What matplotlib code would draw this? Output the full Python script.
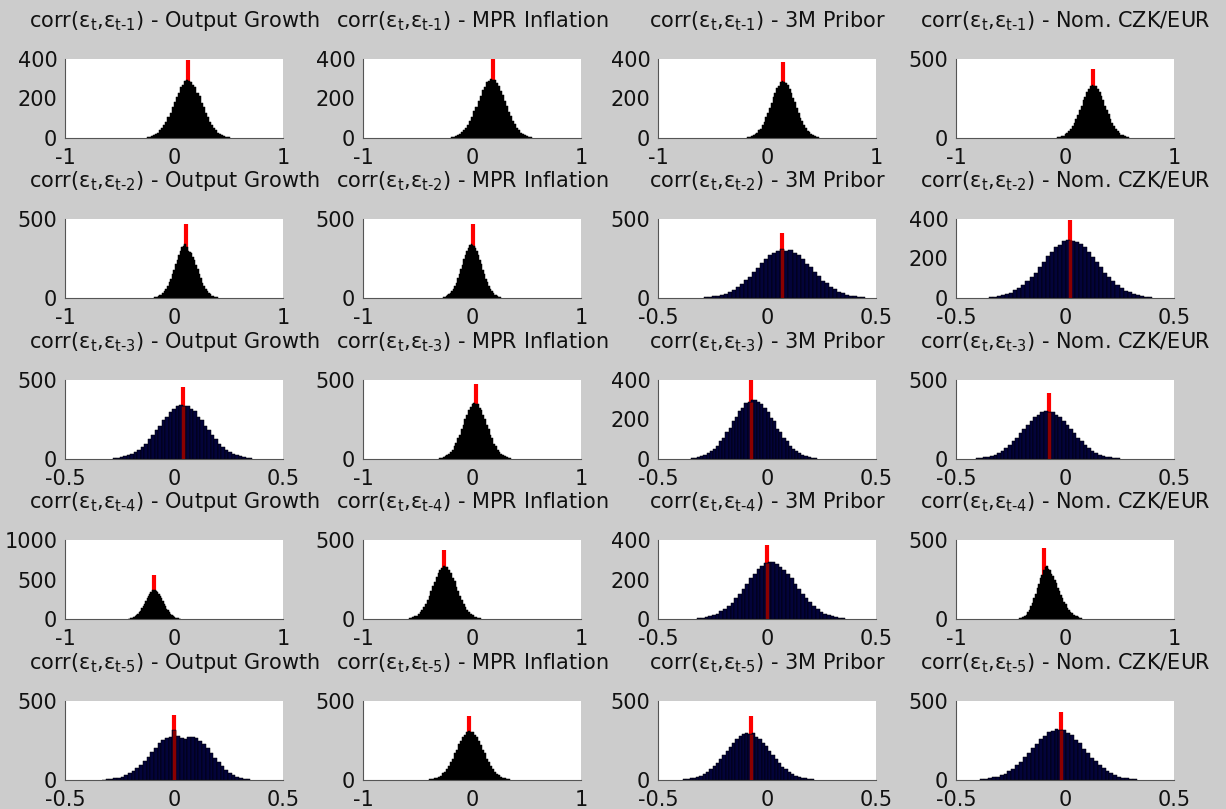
import numpy as np
import matplotlib
matplotlib.use("Agg")
import matplotlib.pyplot as plt
from matplotlib.ticker import FormatStrFormatter

plt.rcParams['font.family'] = ['DejaVu Sans']
plt.rcParams['mathtext.fontset'] = 'dejavusans'
plt.rcParams['axes.unicode_minus'] = False

variables = ['Output Growth', 'MPR Inflation', '3M Pribor', 'Nom. CZK/EUR']
lags = [1, 2, 3, 4, 5]

# x-axis half width per panel (row = lag, column = variable)
x_half = [[1, 1, 1, 1],
          [1, 1, 0.5, 0.5],
          [0.5, 1, 0.5, 0.5],
          [1, 1, 0.5, 1],
          [0.5, 1, 0.5, 0.5]]

# y-axis upper limit and tick step per panel
y_top = [[400, 400, 400, 500],
         [500, 500, 500, 400],
         [500, 500, 400, 500],
         [1000, 500, 400, 500],
         [500, 500, 500, 500]]
y_step = [[200, 200, 200, 500],
          [500, 500, 500, 200],
          [500, 500, 200, 500],
          [500, 500, 200, 500],
          [500, 500, 500, 500]]

# histogram support (lower, upper edge) per panel
hist_range = [[(-0.25, 0.51), (-0.19, 0.55), (-0.18, 0.48), (-0.07, 0.59)],
              [(-0.18, 0.40), (-0.27, 0.27), (-0.29, 0.45), (-0.35, 0.40)],
              [(-0.28, 0.36), (-0.30, 0.36), (-0.35, 0.23), (-0.41, 0.25)],
              [(-0.42, 0.06), (-0.58, 0.08), (-0.32, 0.36), (-0.42, 0.16)],
              [(-0.33, 0.35), (-0.39, 0.35), (-0.385, 0.215), (-0.39, 0.33)]]

# sample autocorrelation of the data (red marker) and marker height
data_corr = [[0.13, 0.19, 0.15, 0.26],
             [0.11, 0.01, 0.07, 0.025],
             [0.04, 0.04, -0.075, -0.075],
             [-0.18, -0.26, 0.0, -0.19],
             [0.0, -0.03, -0.075, -0.02]]
marker_top = [[395, 398, 385, 436],
              [468, 468, 411, 395],
              [456, 475, 400, 418],
              [557, 437, 375, 449],
              [411, 405, 405, 430]]

# bin counts of the simulated autocorrelations
counts_lag1 = [
    [4, 6, 10, 13, 21, 26, 39, 49, 68, 83, 108, 127, 157, 180, 210, 230, 257, 270, 288, 292,
     289, 283, 268, 256, 228, 211, 178, 158, 126, 108, 82, 67, 49, 39, 26, 20, 13, 10, 6, 4],
    [4, 7, 9, 15, 19, 29, 38, 53, 67, 88, 108, 135, 157, 189, 212, 241, 259, 282, 291, 300,
     296, 294, 277, 263, 236, 216, 185, 160, 131, 111, 85, 69, 51, 40, 27, 21, 13, 10, 6, 4],
    [4, 6, 10, 13, 20, 26, 38, 48, 66, 82, 105, 126, 153, 177, 206, 226, 252, 265, 282, 287,
     284, 278, 268, 247, 230, 202, 181, 150, 128, 103, 84, 64, 50, 36, 28, 18, 14, 9, 6, 4],
    [5, 7, 11, 15, 23, 30, 44, 56, 76, 95, 122, 146, 179, 205, 239, 262, 292, 308, 327, 333,
     329, 326, 309, 292, 263, 239, 205, 178, 149, 119, 97, 74, 58, 42, 32, 21, 16, 10, 7, 5],
]
counts_lag2 = [
    [5, 7, 11, 16, 22, 33, 43, 60, 76, 100, 123, 153, 180, 215, 242, 275, 296, 321, 331, 342,
     322, 300, 290, 282, 262, 240, 208, 186, 150, 126, 98, 78, 58, 44, 31, 23, 15, 11, 7, 5],
    [5, 7, 11, 16, 24, 31, 45, 58, 78, 98, 125, 151, 183, 212, 246, 270, 299, 317, 335, 342,
     338, 332, 318, 296, 273, 241, 215, 180, 153, 122, 100, 76, 60, 43, 33, 22, 16, 10, 7, 5],
    [4, 7, 10, 15, 22, 28, 41, 52, 71, 88, 114, 135, 167, 190, 224, 244, 272, 285, 298, 310,
     295, 306, 285, 272, 250, 218, 196, 162, 140, 110, 92, 69, 54, 39, 30, 20, 15, 10, 7, 4],
    [4, 6, 9, 14, 21, 27, 39, 50, 67, 84, 108, 128, 158, 180, 211, 231, 258, 270, 289, 294,
     290, 286, 272, 257, 232, 210, 181, 157, 129, 107, 86, 65, 51, 37, 28, 20, 13, 9, 6, 4],
]
counts_lag3 = [
    [5, 7, 11, 16, 23, 32, 45, 58, 78, 97, 126, 150, 184, 210, 246, 268, 300, 314, 336, 342,
     333, 338, 316, 301, 268, 247, 210, 185, 150, 126, 97, 79, 58, 45, 31, 23, 16, 11, 7, 5],
    [5, 7, 12, 16, 25, 32, 47, 60, 81, 100, 130, 155, 190, 218, 255, 279, 311, 327, 347, 354,
     346, 345, 325, 312, 277, 256, 214, 192, 152, 131, 98, 82, 59, 47, 31, 24, 16, 11, 7, 5],
    [4, 6, 10, 15, 19, 29, 38, 53, 67, 89, 107, 135, 157, 190, 211, 242, 258, 283, 290, 299,
     297, 288, 281, 259, 240, 209, 190, 154, 136, 105, 89, 66, 52, 39, 28, 19, 14, 9, 6, 4],
    [4, 6, 10, 14, 21, 28, 40, 51, 70, 87, 111, 133, 163, 187, 218, 240, 267, 280, 298, 304,
     300, 295, 280, 266, 241, 215, 188, 162, 133, 112, 87, 70, 51, 40, 28, 21, 14, 10, 6, 4],
]
counts_lag4 = [
    [5, 8, 12, 17, 25, 35, 48, 64, 84, 107, 134, 164, 196, 230, 263, 295, 322, 345, 361, 370,
     366, 360, 343, 320, 296, 261, 231, 194, 166, 132, 108, 83, 65, 47, 36, 24, 18, 12, 8, 5],
    [5, 7, 11, 16, 22, 31, 43, 57, 75, 96, 121, 148, 177, 207, 237, 265, 290, 310, 325, 335,
     331, 328, 307, 292, 262, 240, 204, 179, 146, 122, 95, 76, 56, 43, 30, 23, 15, 11, 7, 5],
    [4, 6, 9, 13, 20, 26, 38, 49, 66, 82, 105, 127, 153, 178, 206, 226, 252, 270, 282, 289,
     287, 280, 264, 250, 226, 206, 178, 153, 128, 104, 84, 65, 50, 37, 27, 19, 13, 9, 6, 4],
    [5, 8, 12, 20, 28, 43, 57, 80, 102, 133, 159, 195, 222, 258, 280, 308, 331, 335, 318, 310,
     286, 271, 244, 226, 196, 177, 149, 131, 107, 92, 72, 60, 46, 38, 27, 22, 16, 12, 8, 6],
]
counts_lag5 = [
    [3, 5, 7, 10, 15, 22, 30, 42, 56, 74, 95, 119, 145, 176, 205, 232, 255, 268, 272, 316,
     276, 268, 262, 270, 272, 266, 248, 228, 200, 170, 140, 112, 86, 64, 46, 31, 21, 13, 8, 5],
    [4, 7, 10, 15, 22, 28, 42, 52, 71, 89, 115, 135, 168, 191, 225, 245, 273, 287, 304, 310,
     303, 301, 285, 273, 244, 224, 190, 168, 134, 114, 88, 72, 51, 41, 29, 21, 15, 10, 7, 4],
    [4, 6, 10, 14, 20, 28, 38, 51, 67, 86, 108, 132, 158, 185, 211, 236, 259, 277, 290, 297,
     294, 296, 275, 262, 233, 213, 183, 159, 130, 109, 84, 68, 50, 39, 27, 20, 14, 10, 6, 4],
    [5, 7, 10, 16, 21, 31, 41, 57, 72, 94, 116, 145, 170, 203, 228, 259, 279, 303, 313, 323,
     318, 316, 299, 283, 255, 232, 199, 174, 141, 118, 92, 74, 55, 43, 29, 22, 15, 10, 7, 5],
]
counts = [counts_lag1, counts_lag2, counts_lag3, counts_lag4, counts_lag5]

W, H = 1226, 809
fig = plt.figure(figsize=(W / 100, H / 100), dpi=100, facecolor='#cccccc')

ax_left = [65, 363, 658, 956]
ax_top = [59, 219, 380, 540, 701]
ax_w, ax_h = 218, 79
FS = 15

for r, lag in enumerate(lags):
    for c, var in enumerate(variables):
        ax = fig.add_axes([ax_left[c] / W, 1 - (ax_top[r] + ax_h) / H, ax_w / W, ax_h / H])
        ax.set_facecolor('white')
        heights = np.array(counts[r][c], dtype=float)
        lo, hi = hist_range[r][c]
        edges = np.linspace(lo, hi, len(heights) + 1)
        wide = x_half[r][c] < 1
        face = '#03033a' if wide else 'black'
        ax.bar(edges[:-1], heights, width=np.diff(edges), align='edge',
               color=face, edgecolor='black', linewidth=0.35, zorder=2)

        xv = data_corr[r][c]
        ax.vlines(xv, 0, marker_top[r][c], color='#ff0000', linewidth=3, zorder=1)
        if wide:
            k = int(np.clip(np.searchsorted(edges, xv) - 1, 0, len(heights) - 1))
            ax.vlines(xv, 0, heights[k], color='#8a0000', linewidth=2.5, zorder=3)

        xh = x_half[r][c]
        ax.set_xlim(-xh, xh)
        ax.set_ylim(0, y_top[r][c])
        ax.set_xticks([-xh, 0, xh])
        ax.set_yticks(np.arange(0, y_top[r][c] + 1, y_step[r][c]))
        ax.xaxis.set_major_formatter(FormatStrFormatter('%g'))
        ax.yaxis.set_major_formatter(FormatStrFormatter('%g'))
        ax.tick_params(length=0, labelsize=FS, colors='#111111')
        ax.tick_params(axis='x', pad=7.5)
        ax.tick_params(axis='y', pad=5.5)
        for s in ['top', 'right']:
            ax.spines[s].set_visible(False)
        for s in ['left', 'bottom']:
            ax.spines[s].set_color('#555555')
            ax.spines[s].set_linewidth(0.8)

        title = (r'corr($\mathrm{\varepsilon_{t}}$,$\mathrm{\varepsilon_{t\text{-}%d}}$) - %s'
                 % (lag, var))
        ax.text(0.5, 1 + 32 / ax_h, title, transform=ax.transAxes, ha='center',
                va='baseline', fontsize=FS, color='#111111')

fig.savefig('out.png', dpi=100, facecolor=fig.get_facecolor())
